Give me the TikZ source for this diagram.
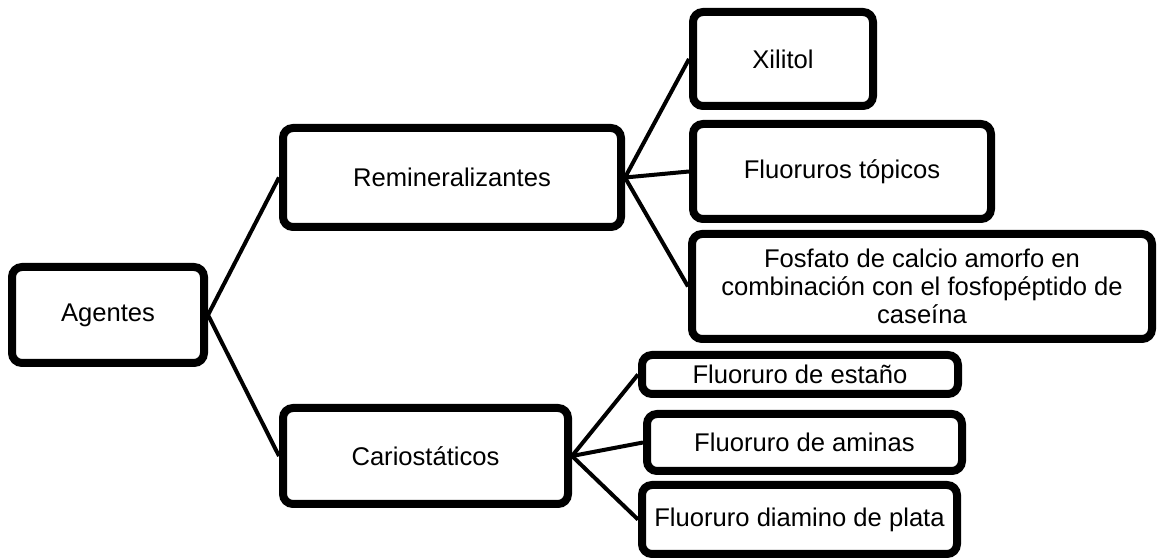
\documentclass[tikz,border=0pt]{standalone}
\usepackage{fontspec}
\setmainfont{Liberation Sans}
\usetikzlibrary{shadows}

\begin{document}
\begin{tikzpicture}[x=0.5pt, y=-0.5pt]
        \useasboundingbox (0,0) rectangle (1157,560);

        \begin{scope}[every node/.style={draw, line width=4pt, rounded corners=5pt,
                fill=white, align=center, inner sep=0pt,
                drop shadow={shadow xshift=0.8pt, shadow yshift=-0.8pt, opacity=0.25},
                font=\fontsize{12.8}{14}\selectfont}]
            \node[minimum width=96pt, minimum height=48pt] (agentes) at (108,315) {Agentes};
            \node[minimum width=169pt, minimum height=49.5pt] (remin) at (452,177.5) {Remineralizantes};
            \node[minimum width=142.5pt, minimum height=48pt] (cario) at (425.5,456) {Cariostáticos};
            \node[minimum width=90pt, minimum height=47pt] (xilitol) at (783,59) {Xilitol};
            \node[minimum width=149pt, minimum height=47.5pt] (topicos) at (842,171.5) {Fluoruros tópicos};
            \node[minimum width=230pt, minimum height=52.5pt] (fosfato) at (922,286.5)
                {Fosfato de calcio amorfo en\\combinación con el fosfopéptido de\\caseína};
            \node[minimum width=158pt, minimum height=19.5pt] (estano) at (800,374.5) {Fluoruro de estaño};
            \node[minimum width=157.5pt, minimum height=28.5pt] (aminas) at (804.5,442.5) {Fluoruro de aminas};
            \node[minimum width=157.5pt, minimum height=34.5pt] (plata) at (799.5,519.5) {Fluoruro diamino de plata};
        \end{scope}

        \begin{scope}[
                every edge/.style={draw, line width=2pt}]
            \path [-] (agentes.east) edge (remin.west);
            \path [-] (agentes.east) edge (cario.west);
            \path [-] (remin.east) edge (xilitol.west);
            \path [-] (remin.east) edge (topicos.west);
            \path [-] (remin.east) edge (fosfato.west);
            \path [-] (cario.east) edge (estano.west);
            \path [-] (cario.east) edge (aminas.west);
            \path [-] (cario.east) edge (plata.west);
        \end{scope}
    \end{tikzpicture}
\end{document}
